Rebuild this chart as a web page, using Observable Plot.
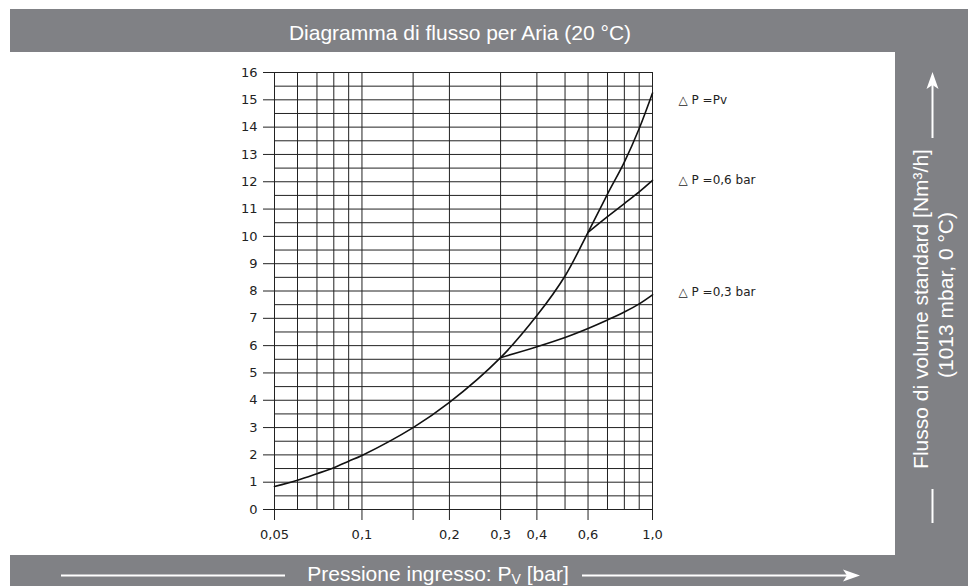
<!DOCTYPE html>
<html><head><meta charset="utf-8">
<script src="https://cdn.jsdelivr.net/npm/d3@7"></script>
<script src="https://cdn.jsdelivr.net/npm/@observablehq/plot@0.6"></script>
<style>html,body{margin:0;padding:0;background:#fff;} svg{display:block}</style>
</head><body><div id="chart"></div>
<script>
// ---- data ----
const mainP = [0.05, 0.06, 0.07, 0.08, 0.09, 0.1, 0.15, 0.2, 0.3, 0.4, 0.5, 0.6, 0.7, 0.8, 0.9, 1.0];
const mainQ = [0.84, 1.07, 1.31, 1.53, 1.77, 1.98, 3.0, 3.92, 5.56, 7.1, 8.55, 10.15, 11.55, 12.72, 13.95, 15.25];
const dp06P = [0.6, 0.7, 0.8, 0.9, 1.0];
const dp06Q = [10.15, 10.72, 11.2, 11.63, 12.05];
const dp03P = [0.3, 0.4, 0.5, 0.6, 0.7, 0.8, 0.9, 1.0];
const dp03Q = [5.56, 5.96, 6.3, 6.63, 6.94, 7.23, 7.53, 7.86];
const seriesLabels = ["\u25B3 P =Pv", "\u25B3 P =0,6 bar", "\u25B3 P =0,3 bar"];
const seriesLabelQ = [15.0, 12.05, 7.95];
const xGrid = [0.05, 0.06, 0.07, 0.08, 0.09, 0.1, 0.15, 0.2, 0.3, 0.4, 0.5, 0.6, 0.7, 0.8, 0.9, 1.0];
const yGrid = [0,0.5,1,1.5,2,2.5,3,3.5,4,4.5,5,5.5,6,6.5,7,7.5,8,8.5,9,9.5,10,10.5,11,11.5,12,12.5,13,13.5,14,14.5,15,15.5,16];
const xTicks = [0.05, 0.1, 0.15, 0.2, 0.3, 0.4, 0.6, 1.0];
const xTickLabels = ["0,05", "0,1", "", "0,2", "0,3", "0,4", "0,6", "1,0"];
const yTicks = [0,1,2,3,4,5,6,7,8,9,10,11,12,13,14,15,16];
const title = "Diagramma di flusso per Aria (20 °C)";
const xTitle = ["Pressione ingresso: P", "V", " [bar]"];
const yTitle = ["Flusso di volume standard [Nm³/h]", "(1013 mbar, 0 °C)"];

const toRows = (ps, qs) => ps.map((p, i) => ({p, q: qs[i]}));
const xLabelMap = new Map(xTicks.map((t, i) => [t, xTickLabels[i]]));
const labelRows = seriesLabels.map((t, i) => ({t, p: mainP[mainP.length - 1], q: seriesLabelQ[i]}));

const W = 968, H = 586;
const chart = Plot.plot({
  width: W, height: H,
  marginLeft: 274, marginRight: 316, marginTop: 72, marginBottom: 77,
  style: {fontFamily: "'DejaVu Sans', sans-serif", fontSize: "13px", color: "#222", background: "transparent"},
  x: {type: "log", domain: [0.05, 1]},
  y: {domain: [0, 16]},
  marks: [
    Plot.ruleX(xGrid, {y1: 0, y2: 16, stroke: "#222", strokeWidth: 1}),
    Plot.ruleY(yGrid, {x1: 0.05, x2: 1, stroke: "#222", strokeWidth: 1}),
    Plot.axisY({ticks: yTicks, tickSize: 11, tickPadding: 6, label: null, stroke: "#222", strokeOpacity: 1}),
    Plot.axisX({ticks: xTicks, tickSize: 11, tickPadding: 9, label: null, stroke: "#222", strokeOpacity: 1,
                tickFormat: d => xLabelMap.get(d)}),
    Plot.line(toRows(mainP, mainQ), {x: "p", y: "q", curve: "catmull-rom", stroke: "#111", strokeWidth: 1.6}),
    Plot.line(toRows(dp06P, dp06Q), {x: "p", y: "q", curve: "catmull-rom", stroke: "#111", strokeWidth: 1.6}),
    Plot.line(toRows(dp03P, dp03Q), {x: "p", y: "q", curve: "catmull-rom", stroke: "#111", strokeWidth: 1.6}),
    Plot.text(labelRows, {x: "p", y: "q", text: "t", dx: 26, textAnchor: "start", fontSize: 12, fill: "#222"})
  ]
});
document.getElementById("chart").appendChild(chart);

// ---- decorative gray frame with titles ----
const svg = d3.select(chart);
const gray = "#808185";
const bg = svg.insert("g", ":first-child");
bg.append("rect").attr("x", 0).attr("y", 0).attr("width", W).attr("height", H).attr("fill", "#fff");
bg.append("rect").attr("x", 10).attr("y", 9).attr("width", W - 10).attr("height", 43).attr("fill", gray);
bg.append("rect").attr("x", 895).attr("y", 52).attr("width", W - 895).attr("height", H - 52).attr("fill", gray);
bg.append("rect").attr("x", 10).attr("y", 555).attr("width", W - 10).attr("height", H - 555).attr("fill", gray);

const fg = svg.append("g").attr("font-family", "'Liberation Sans', Arial, sans-serif").attr("fill", "#fff");
fg.append("text").attr("x", 460).attr("y", 39.5).attr("text-anchor", "middle")
  .attr("font-size", 21).text(title);

// bottom label
const bt = fg.append("text").attr("x", 438).attr("y", 581).attr("text-anchor", "middle").attr("font-size", 21);
bt.append("tspan").text(xTitle[0]);
bt.append("tspan").attr("font-size", 14).attr("dy", 3).text(xTitle[1]);
bt.append("tspan").attr("dy", -3).text(xTitle[2]);
fg.append("line").attr("x1", 61).attr("x2", 285).attr("y1", 575.5).attr("y2", 575.5).attr("stroke", "#fff").attr("stroke-width", 2);
fg.append("line").attr("x1", 582).attr("x2", 848).attr("y1", 575.5).attr("y2", 575.5).attr("stroke", "#fff").attr("stroke-width", 2);
fg.append("path").attr("d", "M860,575.5 L843,569.5 L847,575.5 L843,581.5 Z").attr("fill", "#fff");

// right label
fg.append("text").attr("transform", "translate(928,309) rotate(-90)").attr("text-anchor", "middle")
  .attr("font-size", 21).text(yTitle[0]);
fg.append("text").attr("transform", "translate(953,295) rotate(-90)").attr("text-anchor", "middle")
  .attr("font-size", 21).text(yTitle[1]);
fg.append("line").attr("x1", 932.5).attr("x2", 932.5).attr("y1", 84).attr("y2", 138).attr("stroke", "#fff").attr("stroke-width", 2);
fg.append("path").attr("d", "M932.5,72 L926.5,89 L932.5,85 L938.5,89 Z").attr("fill", "#fff");
fg.append("line").attr("x1", 932.5).attr("x2", 932.5).attr("y1", 489).attr("y2", 523).attr("stroke", "#fff").attr("stroke-width", 2);
</script>
</body></html>
